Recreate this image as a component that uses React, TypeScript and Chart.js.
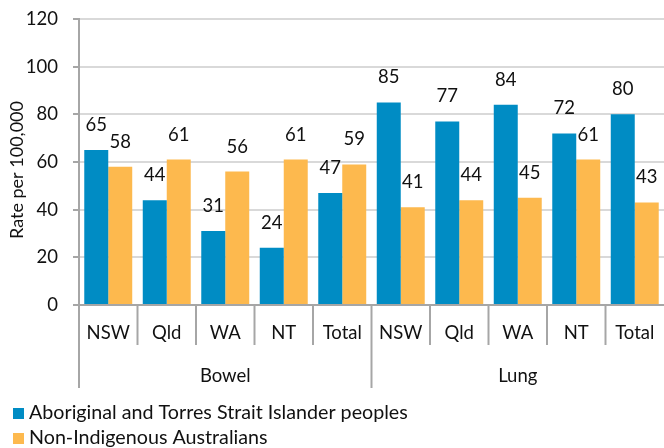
import React, { useEffect, useRef } from "react";
import { Chart, registerables } from "chart.js";

Chart.register(...registerables);

const categories = ["NSW", "Qld", "WA", "NT", "Total", "NSW", "Qld", "WA", "NT", "Total"];
const groups = ["Bowel", "Lung"];
const groupSizes = [5, 5];
const indigenous = [65, 44, 31, 24, 47, 85, 77, 84, 72, 80];
const nonIndigenous = [58, 61, 56, 61, 59, 41, 44, 45, 61, 43];
const seriesNames = ["Aboriginal and Torres Strait Islander peoples", "Non-Indigenous Australians"];
const yTitle = "Rate per 100,000";
const yMin = 0;
const yMax = 120;
const yStep = 20;

const FONT = "Lato, sans-serif";
const BLUE = "#008CC4";
const ORANGE = "#FDB94E";
const AXIS = "#A6A6A6";
const GRID = "#D9D9D9";

const customPlugin = {
  id: "customDecor",
  afterDraw(chart: any) {
    const ctx = chart.ctx;
    const xs = chart.scales.x;
    const area = chart.chartArea;
    const n = categories.length;
    const cw = (xs.right - xs.left) / n;
    ctx.save();
    // separators
    ctx.strokeStyle = AXIS;
    ctx.lineWidth = 2;
    const groupEnds = new Set<number>();
    let acc = 0;
    groupEnds.add(0);
    groupSizes.forEach((s) => {
      acc += s;
      groupEnds.add(acc);
    });
    for (let i = 0; i < n; i++) {
      const bx = xs.getPixelForValue(i) - cw / 2;
      const len = groupEnds.has(i) ? 83 : 40;
      ctx.beginPath();
      ctx.moveTo(bx, area.bottom);
      ctx.lineTo(bx, area.bottom + len);
      ctx.stroke();
    }
    // category labels
    ctx.fillStyle = "#111";
    ctx.textAlign = "center";
    ctx.textBaseline = "middle";
    ctx.font = `18.5px ${FONT}`;
    categories.forEach((c, i) => {
      ctx.fillText(c, xs.getPixelForValue(i), area.bottom + 28);
    });
    // group labels
    let start = 0;
    groups.forEach((g, gi) => {
      const end = start + groupSizes[gi] - 1;
      const cx = (xs.getPixelForValue(start) + xs.getPixelForValue(end)) / 2;
      ctx.fillText(g, cx, area.bottom + 71);
      start += groupSizes[gi];
    });
    // data labels
    ctx.font = `18.5px ${FONT}`;
    chart.data.datasets.forEach((ds: any, di: number) => {
      const meta = chart.getDatasetMeta(di);
      meta.data.forEach((bar: any, i: number) => {
        ctx.fillText(String(ds.data[i]), bar.x, bar.y - 25);
      });
    });
    // y title
    ctx.save();
    ctx.translate(17, 170);
    ctx.rotate(-Math.PI / 2);
    ctx.font = `18px ${FONT}`;
    ctx.fillText(yTitle, 0, 0);
    ctx.restore();
    // legend
    const colors = [BLUE, ORANGE];
    ctx.textAlign = "left";
    ctx.font = `19.7px ${FONT}`;
    seriesNames.forEach((name, i) => {
      const cy = 413 + i * 25;
      ctx.fillStyle = colors[i];
      ctx.fillRect(13, cy - 5, 11, 11);
      ctx.fillStyle = "#111";
      ctx.fillText(name, 29, cy);
    });
    ctx.restore();
  },
};

export default function App() {
  const ref = useRef<HTMLCanvasElement>(null);
  useEffect(() => {
    document.body.style.margin = "0";
    const chart = new Chart(ref.current!, {
      type: "bar",
      data: {
        labels: categories,
        datasets: [
          { label: seriesNames[0], data: indigenous, backgroundColor: BLUE },
          { label: seriesNames[1], data: nonIndigenous, backgroundColor: ORANGE },
        ],
      },
      options: {
        responsive: false,
        animation: false,
        layout: { padding: { top: 19, left: 0, right: -2, bottom: 143 } },
        datasets: { bar: { categoryPercentage: 0.82, barPercentage: 1.0 } },
        plugins: { legend: { display: false }, tooltip: { enabled: false } },
        scales: {
          x: {
            grid: { display: false },
            ticks: { display: false },
            border: { display: true, color: AXIS, width: 2 },
            afterFit: (s: any) => {
              s.height = 0;
              s.paddingLeft = 0;
              s.paddingRight = 0;
            },
          },
          y: {
            min: yMin,
            max: yMax,
            ticks: { stepSize: yStep, color: "#111", font: { size: 18.5, family: FONT }, padding: 15 },
            grid: { color: GRID, lineWidth: 2, tickLength: 6, tickColor: AXIS },
            border: { display: true, color: AXIS, width: 2 },
            afterFit: (s: any) => {
              s.width = 79;
              s.paddingTop = 0;
              s.paddingBottom = 0;
            },
          },
        },
      },
      plugins: [customPlugin],
    });
    return () => chart.destroy();
  }, []);
  return (
    <div style={{ width: 664, height: 448 }}>
      <canvas ref={ref} width={664} height={448} />
    </div>
  );
}
